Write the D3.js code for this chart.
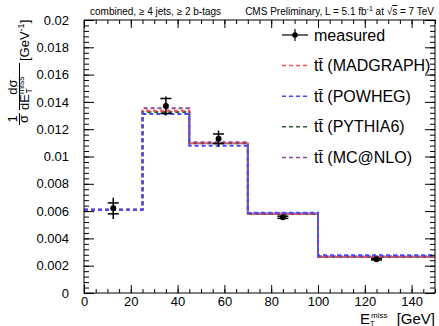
<!DOCTYPE html>
<html>
<head>
<meta charset="utf-8">
<script src="https://cdn.jsdelivr.net/npm/d3@7"></script>
<style>
  body { margin: 0; background: #fff; }
  svg { font-family: "Liberation Sans", Arial, sans-serif; }
</style>
</head>
<body>
<svg width="439" height="326"></svg>
<script>
// bin edges in GeV
var binEdges = [0, 25, 45, 70, 100, 150];
var binCenters = [12.5, 35, 57.5, 85, 125];

// measured normalised cross section
var measured = [0.0062, 0.0137, 0.0113, 0.00555, 0.00247];
var measuredErrTot = [0.00078, 0.0007, 0.0006, 0.00012, 0.0001];
var measuredErrStat = [0.0004, 0.00055, 0.00035, 0.00008, 0.00005];

// simulation predictions
var madgraph = [0.0061, 0.01336, 0.01097, 0.00578, 0.00264];
var powheg = [0.0061, 0.01311, 0.01079, 0.00588, 0.00276];
var pythia6 = [0.0061, 0.01326, 0.01097, 0.00578, 0.00264];
var mcatnlo = [0.0061, 0.01353, 0.01104, 0.00584, 0.0027];

var seriesNames = ["tt\u0304 (MADGRAPH)", "tt\u0304 (POWHEG)", "tt\u0304 (PYTHIA6)", "tt\u0304 (MC@NLO)"];

var yMajor = [0, 0.002, 0.004, 0.006, 0.008, 0.01, 0.012, 0.014, 0.016, 0.018, 0.02];
var yLabels = ["0", "0.002", "0.004", "0.006", "0.008", "0.01", "0.012", "0.014", "0.016", "0.018", "0.02"];
var xMajor = [0, 20, 40, 60, 80, 100, 120, 140];

var margin = { top: 20, right: 4, bottom: 33, left: 84 };
var width = 439, height = 326;

var svg = d3.select("svg");

var x = d3.scaleLinear().domain([0, 150]).range([margin.left, width - margin.right]);
var y = d3.scaleLinear().domain([0, 0.02]).range([height - margin.bottom, margin.top]);

var series = [
    { name: seriesNames[2], values: pythia6, color: "#2f5f2f" },
    { name: seriesNames[0], values: madgraph, color: "#f05050" },
    { name: seriesNames[3], values: mcatnlo, color: "#8a4a9a" },
    { name: seriesNames[1], values: powheg, color: "#4848ff" }
];

// histogram step lines
function stepPath(vals) {
    var p = "M" + x(binEdges[0]) + "," + y(vals[0]);
    for (var i = 0; i < vals.length; i++) {
        if (i > 0) p += "L" + x(binEdges[i]) + "," + y(vals[i]);
        p += "L" + x(binEdges[i + 1]) + "," + y(vals[i]);
    }
    return p;
}

svg.selectAll("path.hist")
    .data(series)
    .enter().append("path")
    .attr("class", "hist")
    .attr("d", function (d) { return stepPath(d.values); })
    .attr("fill", "none")
    .attr("stroke", function (d) { return d.color; })
    .attr("stroke-width", 2)
    .attr("stroke-dasharray", "4,3");

// measured points
var pts = svg.append("g");
measured.forEach(function (v, i) {
    var cx = x(binCenters[i]);
    pts.append("line")
        .attr("x1", cx).attr("x2", cx)
        .attr("y1", y(v - measuredErrTot[i])).attr("y2", y(v + measuredErrTot[i]))
        .attr("stroke", "black").attr("stroke-width", 1.5);
    [v - measuredErrStat[i], v + measuredErrStat[i]].forEach(function (e) {
        pts.append("line")
            .attr("x1", cx - 5.5).attr("x2", cx + 5.5)
            .attr("y1", y(e)).attr("y2", y(e))
            .attr("stroke", "black").attr("stroke-width", 1.5);
    });
    pts.append("circle").attr("cx", cx).attr("cy", y(v)).attr("r", 3).attr("fill", "black");
});

// frame
svg.append("rect")
    .attr("x", x(0)).attr("y", y(0.02))
    .attr("width", x(150) - x(0)).attr("height", y(0) - y(0.02))
    .attr("fill", "none").attr("stroke", "black");

// ticks, drawn inside the frame
var yMinor = d3.range(0, 0.02001, 0.0004);
var xMinor = d3.range(0, 150.1, 5);

function noLabels(ax) { return ax.tickFormat(""); }

svg.append("g").attr("transform", "translate(" + x(0) + ",0)")
    .call(noLabels(d3.axisLeft(y).tickValues(yMinor).tickSize(-5)));
svg.append("g").attr("transform", "translate(" + x(0) + ",0)")
    .call(d3.axisLeft(y).tickValues(yMajor).tickSize(-10).tickPadding(15)
        .tickFormat(function (d, i) { return yLabels[i]; }));
svg.append("g").attr("transform", "translate(" + x(150) + ",0)")
    .call(noLabels(d3.axisRight(y).tickValues(yMinor).tickSize(-5)));
svg.append("g").attr("transform", "translate(" + x(150) + ",0)")
    .call(noLabels(d3.axisRight(y).tickValues(yMajor).tickSize(-10)));

svg.append("g").attr("transform", "translate(0," + y(0) + ")")
    .call(noLabels(d3.axisBottom(x).tickValues(xMinor).tickSize(-4)));
svg.append("g").attr("class", "xlab").attr("transform", "translate(0," + y(0) + ")")
    .call(d3.axisBottom(x).tickValues(xMajor).tickSize(-8).tickPadding(4));
svg.append("g").attr("transform", "translate(0," + y(0.02) + ")")
    .call(noLabels(d3.axisTop(x).tickValues(xMinor).tickSize(-4)));
svg.append("g").attr("transform", "translate(0," + y(0.02) + ")")
    .call(noLabels(d3.axisTop(x).tickValues(xMajor).tickSize(-8)));

svg.selectAll(".domain").remove();
svg.selectAll(".tick line").attr("stroke", "black");
svg.selectAll(".tick text").attr("font-size", 13).attr("fill", "black")
    .attr("font-family", "Liberation Sans, Arial, sans-serif");

// legend
var legend = svg.append("g");
var ly0 = 35, lstep = 30.6;
legend.append("line").attr("x1", 282).attr("x2", 308).attr("y1", ly0).attr("y2", ly0)
    .attr("stroke", "black").attr("stroke-width", 1.2);
legend.append("line").attr("x1", 295).attr("x2", 295).attr("y1", ly0 - 6).attr("y2", ly0 + 6)
    .attr("stroke", "black").attr("stroke-width", 1.2);
legend.append("circle").attr("cx", 295).attr("cy", ly0).attr("r", 2.8).attr("fill", "black");
legend.append("text").attr("x", 314).attr("y", ly0 + 5.5).attr("font-size", 16).text("measured");

var legendOrder = [series[1], series[3], series[0], series[2]];
legendOrder.forEach(function (s, i) {
    var ly = ly0 + lstep * (i + 1);
    legend.append("line").attr("x1", 282).attr("x2", 308).attr("y1", ly).attr("y2", ly)
        .attr("stroke", s.color).attr("stroke-width", 1.5).attr("stroke-dasharray", "4,3");
    legend.append("text").attr("x", 314).attr("y", ly + 5.5).attr("font-size", 16)
        .text(s.name);
});

// header texts
svg.append("text").attr("x", 90).attr("y", 15).attr("font-size", 10)
    .text("combined, \u2265 4 jets, \u2265 2 b-tags");
var cms = svg.append("text").attr("x", 434).attr("y", 15).attr("font-size", 10)
    .attr("text-anchor", "end");
cms.append("tspan").text("CMS Preliminary, L = 5.1 fb");
cms.append("tspan").attr("font-size", 7).attr("dy", -4).text("-1");
cms.append("tspan").attr("dy", 4).text(" at \u221A");
cms.append("tspan").attr("text-decoration", "overline").text("s");
cms.append("tspan").text(" = 7 TeV");

// x axis title
var xt = svg.append("g").attr("font-size", 15);
xt.append("text").attr("x", 360).attr("y", 324).text("E");
xt.append("text").attr("x", 371).attr("y", 318).attr("font-size", 8).text("miss");
xt.append("text").attr("x", 370).attr("y", 325.5).attr("font-size", 7.5).text("T");
xt.append("text").attr("x", 435).attr("y", 324).attr("text-anchor", "end").text("[GeV]");

// y axis title (rotated fraction)
var yt = svg.append("g").attr("transform", "rotate(-90)").attr("font-size", 13);
yt.append("text").attr("x", -119).attr("y", 17).attr("text-anchor", "middle").text("1");
yt.append("line").attr("x1", -125).attr("x2", -113).attr("y1", 19.5).attr("y2", 19.5)
    .attr("stroke", "black").attr("stroke-width", 1);
yt.append("text").attr("x", -119).attr("y", 28).attr("text-anchor", "middle").text("\u03c3");

yt.append("text").attr("x", -87).attr("y", 17).attr("text-anchor", "middle").text("d\u03c3");
yt.append("line").attr("x1", -110).attr("x2", -63).attr("y1", 19.5).attr("y2", 19.5)
    .attr("stroke", "black").attr("stroke-width", 1);
var den = yt.append("text").attr("x", -110).attr("y", 29);
den.append("tspan").text("dE");
den.append("tspan").attr("font-size", 8.5).attr("dy", -5).text("miss");
den.append("tspan").attr("font-size", 8.5).attr("dx", -17).attr("dy", 8).text("T");

var gev = yt.append("text").attr("x", -61).attr("y", 29);
gev.append("tspan").text("[GeV");
gev.append("tspan").attr("font-size", 9).attr("dy", -5).text("-1");
gev.append("tspan").attr("dy", 5).text("]");
</script>
</body>
</html>
